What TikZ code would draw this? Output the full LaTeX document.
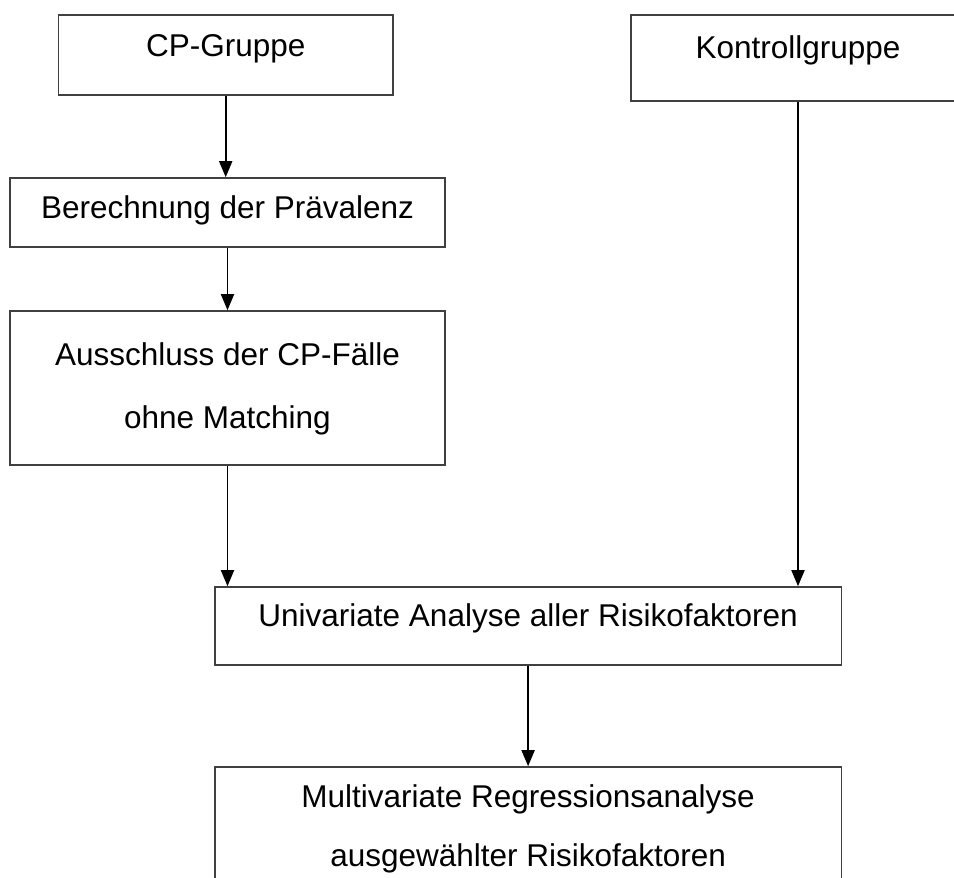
\documentclass[tikz,border=0pt]{standalone}
\usepackage{fontspec}
\setmainfont{Liberation Sans}
\usepackage{tikz}
\usetikzlibrary{arrows.meta}

\begin{document}
\begin{tikzpicture}[x=0.5pt, y=-0.5pt, >={Triangle[width=6.5pt,length=8pt]},
  box/.style={rectangle, draw=black!75, line width=0.8pt, inner sep=0pt},
  txt/.style={anchor=north, inner sep=0pt, align=center, font=\fontsize{15.75pt}{31.5pt}\selectfont},
  pfeil/.style={->, line width=0.9pt, draw=black}]

\useasboundingbox (0,0) rectangle (954,878);

% Kaesten
\node (cp) at (225.7, 55) [box, minimum width=167.3pt, minimum height=40pt] {};
\node (kon) at (798, 58) [box, minimum width=167pt, minimum height=43pt] {};
\node (ber) at (227.5, 212.5) [box, minimum width=217.25pt, minimum height=34.5pt] {};
\node (aus) at (227.5, 388) [box, minimum width=217.25pt, minimum height=77pt] {};
\node (uni) at (528.1, 626) [box, minimum width=313.3pt, minimum height=39pt] {};
\node (mul) at (528.1, 836) [box, minimum width=313.3pt, minimum height=69pt] {};

% Beschriftungen
\node (cptxt) at (225.7, 34.4) [txt] {CP-Gruppe};
\node (kontxt) at (798, 35) [txt] {Kontrollgruppe};
\node (bertxt) at (227.5, 195.4) [txt] {Berechnung der Prävalenz};
\node (austxt) at (227.5, 342.4) [txt] {Ausschluss der CP-Fälle\\ohne Matching};
\node (unitxt) at (528.1, 603.4) [txt] {Univariate Analyse aller Risikofaktoren};
\node (multxt) at (528.1, 784.4) [txt] {Multivariate Regressionsanalyse\\[-2pt]ausgewählter Risikofaktoren};

% Pfeile
\draw[pfeil] (cp.south) -- (cp.south |- ber.north);
\draw[pfeil] (ber.south) -- (ber.south |- aus.north);
\draw[pfeil] (aus.south) -- (aus.south |- uni.north);
\draw[pfeil] (kon.south) -- (kon.south |- uni.north);
\draw[pfeil] (uni.south) -- (mul.north);

\end{tikzpicture}
\end{document}
